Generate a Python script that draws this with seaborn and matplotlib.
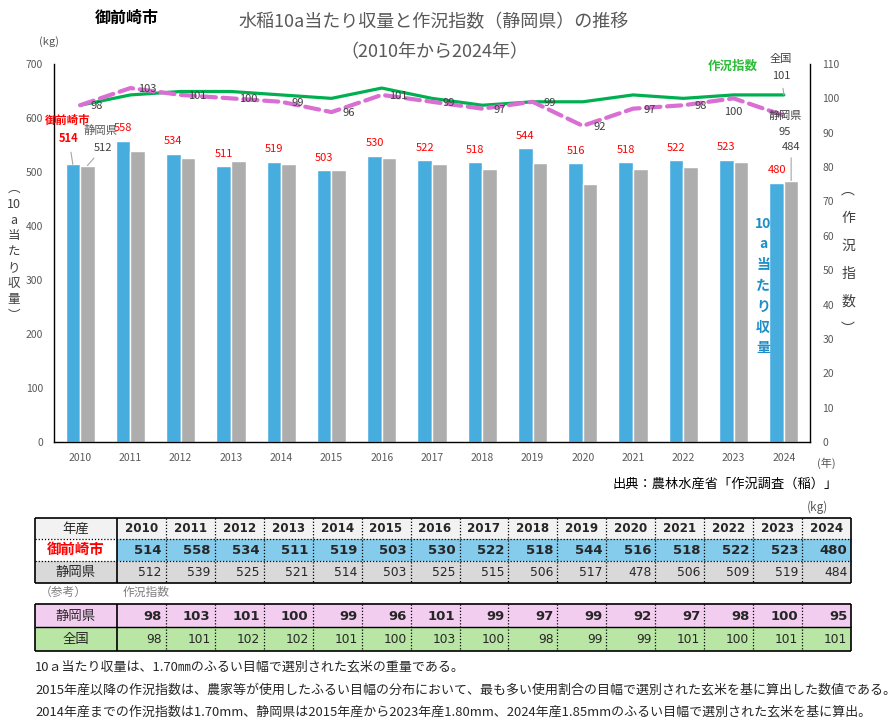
import numpy as np
import pandas as pd
import matplotlib
matplotlib.use("Agg")
import matplotlib.pyplot as plt
import seaborn as sns
from matplotlib.patches import Rectangle

sns.set_style("white")
plt.rcParams['font.family'] = ['Noto Sans CJK JP', 'DejaVu Sans']

# ---------------- data ----------------
years = ["2010", "2011", "2012", "2013", "2014", "2015", "2016", "2017",
         "2018", "2019", "2020", "2021", "2022", "2023", "2024"]
omaezaki_yield = [514, 558, 534, 511, 519, 503, 530, 522, 518, 544, 516, 518, 522, 523, 480]
shizuoka_yield = [512, 539, 525, 521, 514, 503, 525, 515, 506, 517, 478, 506, 509, 519, 484]
shizuoka_index = [98, 103, 101, 100, 99, 96, 101, 99, 97, 99, 92, 97, 98, 100, 95]
national_index = [98, 101, 102, 102, 101, 100, 103, 100, 98, 99, 99, 101, 100, 101, 101]
left_ticks = [0, 100, 200, 300, 400, 500, 600, 700]
right_ticks = [0, 10, 20, 30, 40, 50, 60, 70, 80, 90, 100, 110]
series_names = ["御前崎市", "静岡県"]

BLUE = "#47ADDF"
GRAY = "#ADADAD"
GREEN = "#00B050"
PINK = "#D96FD2"
RED = "#FF0000"
TXT = "#595959"

W, H = 896, 728
fig = plt.figure(figsize=(W / 100, H / 100), dpi=100, facecolor="white")

# ---------------- chart ----------------
ax = fig.add_axes([54 / W, 1 - 442 / H, (810 - 54) / W, (442 - 64) / H])
df = pd.DataFrame({
    "year": years * 2,
    "value": omaezaki_yield + shizuoka_yield,
    "series": [series_names[0]] * len(years) + [series_names[1]] * len(years),
})
sns.barplot(data=df, x="year", y="value", hue="series", hue_order=series_names,
            palette=[BLUE, GRAY], width=0.58, saturation=1, gap=0,
            legend=False, ax=ax)
ax.set_xlim(-0.52, len(years) - 1 + 0.52)
ax.set_ylim(left_ticks[0], left_ticks[-1])
ax.set_yticks(left_ticks)
ax.set_xlabel("")
ax.set_ylabel("")
for s in ["top", "right"]:
    ax.spines[s].set_visible(False)
for s in ["left", "bottom"]:
    ax.spines[s].set_color("black")
    ax.spines[s].set_linewidth(1.0)
ax.tick_params(axis="y", length=0, pad=8, labelsize=7.5, labelcolor=TXT)
ax.tick_params(axis="x", length=0, pad=8, labelsize=7.5, labelcolor=TXT)

blue_bars = ax.containers[0]
gray_bars = ax.containers[1]

for i, p in enumerate(blue_bars.patches):
    cx = p.get_x() + p.get_width() / 2
    top = p.get_height()
    if i == 0:
        ax.annotate(str(omaezaki_yield[i]), xy=(cx, top), xytext=(-2.9, 18.8),
                    textcoords="offset points", ha="center", va="center",
                    color=RED, fontsize=8, fontweight="bold",
                    arrowprops=dict(arrowstyle="-", color="#A6A6A6", lw=0.8,
                                    shrinkA=3, shrinkB=0))
    else:
        ax.annotate(str(omaezaki_yield[i]), xy=(cx, top), xytext=(0, 9),
                    textcoords="offset points", ha="center", va="center",
                    color=RED, fontsize=8)

for i, off in [(0, (11.3, 12.8)), (len(years) - 1, (0, 24.4))]:
    p = gray_bars.patches[i]
    cx = p.get_x() + p.get_width() / 2
    ax.annotate(str(shizuoka_yield[i]), xy=(cx, p.get_height()), xytext=off,
                textcoords="offset points", ha="center", va="center",
                color="#404040", fontsize=8,
                arrowprops=dict(arrowstyle="-", color="#A6A6A6", lw=0.8,
                                shrinkA=2, shrinkB=0))

# index lines on twin axis
ax2 = ax.twinx()
xpos = np.arange(len(years))
sns.lineplot(x=xpos, y=national_index, color=GREEN, lw=2.3, ax=ax2)
sns.lineplot(x=xpos, y=shizuoka_index, color=PINK, lw=3.0, ax=ax2)
dl = ax2.lines[-1]
dl.set_dashes((3.4, 1.6))
dl.set_dash_capstyle("round")
ax2.set_ylim(right_ticks[0], right_ticks[-1])
ax2.set_yticks(right_ticks)
ax2.set_xlim(ax.get_xlim())
ax2.set_ylabel("")
for s in ["top", "left", "bottom"]:
    ax2.spines[s].set_visible(False)
ax2.spines["right"].set_color("black")
ax2.spines["right"].set_linewidth(1.0)
ax2.tick_params(axis="y", length=0, pad=9, labelsize=7.5, labelcolor=TXT)

last = len(years) - 1
for i, v in enumerate(shizuoka_index):
    if i == last:
        ax2.annotate("静岡県", xy=(i, v), xytext=(0.7, 0), textcoords="offset points",
                     ha="center", va="center", color="#404040", fontsize=8)
        ax2.annotate(str(v), xy=(i, v), xytext=(0.9, -12.2), textcoords="offset points",
                     ha="center", va="center", color="#404040", fontsize=8)
    elif i == last - 1:
        ax2.annotate(str(v), xy=(i, v), xytext=(0, -10), textcoords="offset points",
                     ha="center", va="center", color="#404040", fontsize=8)
    else:
        ax2.annotate(str(v), xy=(i, v), xytext=(12.2, -0.8), textcoords="offset points",
                     ha="center", va="center", color="#404040", fontsize=8)

ax2.annotate(str(national_index[last]), xy=(last, national_index[last]), xytext=(-1.8, 13.7),
             textcoords="offset points", ha="center", va="center", color="#404040", fontsize=8,
             arrowprops=dict(arrowstyle="-", color="#A6A6A6", lw=0.8, shrinkA=3, shrinkB=0))
ax2.annotate("全国", xy=(last, national_index[last]), xytext=(-2.2, 25.9),
             textcoords="offset points", ha="center", va="center", color="#404040", fontsize=8)

# ---------------- overlay (pixel coordinates) ----------------
ov = fig.add_axes([0, 0, 1, 1])
ov.set_xlim(0, W)
ov.set_ylim(H, 0)
ov.axis("off")

ov.text(127, 18, "御前崎市", ha="center", va="center", fontsize=11.5, fontweight="bold", color="black")
ov.text(434, 22, "水稲10a当たり収量と作況指数（静岡県）の推移", ha="center", va="center",
        fontsize=13, color=TXT)
ov.text(434, 52, "（2010年から2024年）", ha="center", va="center", fontsize=13, color=TXT)
ov.text(49, 42, "(kg)", ha="center", va="center", fontsize=8, color=TXT)
ov.text(68, 120, series_names[0], ha="center", va="center", fontsize=8.2, fontweight="bold", color=RED)
ov.text(101, 130, series_names[1], ha="center", va="center", fontsize=8.2, color=TXT)
ov.text(733, 66, "作況指数", ha="center", va="center", fontsize=9, fontweight="bold", color="#2DBB3A")
ov.text(14, 252, "︵\n10\na\n当\nた\nり\n収\n量\n︶", ha="center", va="center",
        fontsize=9, color="#404040", linespacing=1.3)
ov.text(848, 260, "︵\n作\n況\n指\n数\n︶", ha="center", va="center",
        fontsize=10, color="#404040", linespacing=2.25)
ov.text(763, 286, "10\na\n当\nた\nり\n収\n量", ha="center", va="center",
        fontsize=10, fontweight="bold", color="#1E8FC6", linespacing=1.62)
ov.text(826, 463, "(年)", ha="center", va="center", fontsize=8, color=TXT)
ov.text(838, 484, "出典：農林水産省「作況調査（稲）」", ha="right", va="center", fontsize=9.5, color="black")

# ---------------- table ----------------
x0, xl, x1 = 35, 116.7, 851.3
cw = (x1 - xl) / len(years)
t1 = [517.7, 539.0, 561.0, 583.3]
t2 = [603.7, 627.3, 651.0]

def rect(xa, ya, xb, yb, fc):
    ov.add_patch(Rectangle((xa, ya), xb - xa, yb - ya, facecolor=fc, edgecolor="none", zorder=1))

# backgrounds
rect(x0, t1[0], x1, t1[1], "#F2F2F2")
rect(x0, t1[1], xl, t1[2], "white")
rect(xl, t1[1], x1, t1[2], "#85CBEB")
rect(x0, t1[2], x1, t1[3], "#D9D9D9")
rect(x0, t2[0], x1, t2[1], "#F2CDEF")
rect(x0, t2[1], x1, t2[2], "#B9E6A5")

def hline(y, xa, xb, ls="-", lw=1.2):
    ov.plot([xa, xb], [y, y], color="black", lw=lw, ls=ls, zorder=3, solid_capstyle="butt")

def vline(x, ya, yb, ls="-", lw=1.2):
    ov.plot([x, x], [ya, yb], color="black", lw=lw, ls=ls, zorder=3, solid_capstyle="butt")

# table 1 borders
hline(t1[0], x0, x1); hline(t1[3], x0, x1)
vline(x0, t1[0], t1[3]); vline(x1, t1[0], t1[3]); vline(xl, t1[0], t1[3])
hline(t1[1], x0, x1, ls=(0, (1, 1.5)), lw=0.9)
hline(t1[2], x0, x1, ls=(0, (1, 1.5)), lw=0.9)
# table 2 borders
hline(t2[0], x0, x1); hline(t2[2], x0, x1); hline(t2[1], x0, x1, lw=1.0)
vline(x0, t2[0], t2[2]); vline(x1, t2[0], t2[2]); vline(xl, t2[0], t2[2])
for j in range(1, len(years)):
    xx = xl + j * cw
    vline(xx, t1[0], t1[3], ls=(0, (1, 1.5)), lw=0.9)
    vline(xx, t2[0], t2[2], ls=(0, (1, 1.5)), lw=0.9)

def mid(a, b):
    return (a + b) / 2

lab_x = mid(x0, xl)
ov.text(lab_x, mid(t1[0], t1[1]), "年産", ha="center", va="center", fontsize=9.6, zorder=4)
ov.text(lab_x, mid(t1[1], t1[2]), series_names[0], ha="center", va="center", fontsize=10.4,
        fontweight="bold", color=RED, zorder=4)
ov.text(lab_x, mid(t1[2], t1[3]), series_names[1], ha="center", va="center", fontsize=9.6, zorder=4)
ov.text(lab_x, mid(t2[0], t2[1]), "静岡県", ha="center", va="center", fontsize=9.6, zorder=4)
ov.text(lab_x, mid(t2[1], t2[2]), "全国", ha="center", va="center", fontsize=9.6, zorder=4)

NUM = "DejaVu Sans"
for j, yr in enumerate(years):
    cx = xl + (j + 0.5) * cw
    rx = xl + (j + 1) * cw - 4
    ov.text(cx, mid(t1[0], t1[1]) + 0.5, yr, ha="center", va="center", fontsize=8.6,
            fontweight="bold", family=NUM, zorder=4)
    ov.text(rx, mid(t1[1], t1[2]) + 0.5, str(omaezaki_yield[j]), ha="right", va="center",
            fontsize=9.5, fontweight="bold", family=NUM, zorder=4)
    ov.text(rx, mid(t1[2], t1[3]) + 0.5, str(shizuoka_yield[j]), ha="right", va="center",
            fontsize=8.8, family=NUM, color="#262626", zorder=4)
    ov.text(rx, mid(t2[0], t2[1]) + 0.5, str(shizuoka_index[j]), ha="right", va="center",
            fontsize=9.5, fontweight="bold", family=NUM, zorder=4)
    ov.text(rx, mid(t2[1], t2[2]) + 0.5, str(national_index[j]), ha="right", va="center",
            fontsize=8.8, family=NUM, color="#262626", zorder=4)

ov.text(818, 507, "(kg)", ha="center", va="center", fontsize=8.5, color=TXT)
ov.text(63, 592, "（参考）", ha="center", va="center", fontsize=8.5, color="#7F7F7F")
ov.text(146, 592, "作況指数", ha="center", va="center", fontsize=8.5, color="#7F7F7F")

notes = [
    "10ａ当たり収量は、1.70㎜のふるい目幅で選別された玄米の重量である。",
    "2015年産以降の作況指数は、農家等が使用したふるい目幅の分布において、最も多い使用割合の目幅で選別された玄米を基に算出した数値である。",
    "2014年産までの作況指数は1.70mm、静岡県は2015年産から2023年産1.80mm、2024年産1.85mmのふるい目幅で選別された玄米を基に算出。",
]
for ny, nt in zip([667, 690, 712], notes):
    ov.text(35, ny, nt, ha="left", va="center", fontsize=9.35, color="#262626")

fig.savefig("out.png", dpi=100, facecolor="white")
